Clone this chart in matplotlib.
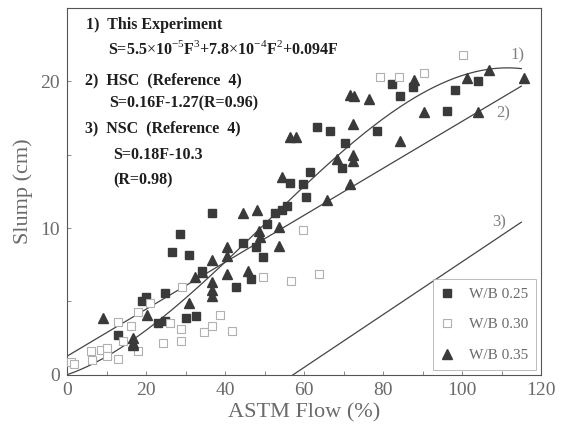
import numpy as np
import matplotlib
matplotlib.use("Agg")
import matplotlib.pyplot as plt
from matplotlib.ticker import MultipleLocator

# W/B 0.25 (filled squares)
flow_025 = [12.9, 19.0, 20.0, 24.9, 23.0, 24.9, 26.7, 28.7, 30.8, 36.7, 34.2, 30.0,
            32.7, 42.7, 46.6, 44.6, 47.9, 49.6, 50.7, 52.6, 54.5, 55.8, 56.5, 59.8,
            60.6, 61.5, 63.4, 66.6, 69.5, 70.4, 78.4, 82.2, 84.3, 87.5, 96.2, 98.2, 104.1]
slump_025 = [2.7, 5.0, 5.3, 5.6, 3.5, 3.7, 8.4, 9.6, 8.2, 11.0, 7.1, 3.9,
             4.0, 6.0, 6.5, 9.0, 8.7, 8.0, 10.3, 11.0, 11.2, 11.5, 13.1, 13.0,
             12.1, 13.8, 16.9, 16.6, 14.1, 15.8, 16.6, 19.8, 19.0, 19.6, 18.0, 19.4, 20.0]

# W/B 0.30 (open squares)
flow_030 = [1.0, 1.8, 6.1, 6.3, 8.6, 10.2, 10.0, 13.0, 13.0, 14.3, 16.2, 18.0, 18.0,
            20.9, 24.4, 26.0, 28.9, 28.9, 29.2, 34.7, 36.7, 38.8, 41.8, 49.5, 56.6,
            59.8, 63.8, 79.3, 84.1, 90.4, 100.2]
slump_030 = [0.9, 0.75, 1.6, 1.0, 1.7, 1.8, 1.3, 1.1, 3.6, 2.3, 3.3, 1.6, 4.3,
             4.9, 2.15, 3.5, 3.1, 2.3, 6.0, 2.9, 3.3, 4.1, 3.0, 6.7, 6.4,
             9.9, 6.9, 20.3, 20.3, 20.6, 21.8]

# W/B 0.35 (triangles)
flow_035 = [9.0, 16.8, 16.8, 16.8, 20.2, 30.8, 32.5, 34.2, 36.7, 36.7, 36.7, 36.7,
            40.5, 40.5, 40.5, 44.6, 45.8, 48.1, 48.5, 48.8, 53.6, 53.6, 54.5, 56.5,
            58.0, 65.7, 68.4, 71.7, 72.6, 71.7, 72.5, 72.5, 72.5, 76.5, 84.4, 87.9,
            90.3, 101.3, 104.1, 106.9, 115.8]
slump_035 = [3.9, 2.5, 2.0, 2.2, 4.1, 4.9, 6.7, 7.0, 7.8, 6.3, 5.8, 5.4,
             8.7, 8.1, 6.9, 11.0, 7.1, 11.2, 9.8, 9.4, 10.1, 8.8, 13.5, 16.2,
             16.2, 11.9, 14.7, 19.1, 19.0, 13.0, 17.1, 15.0, 14.6, 18.8, 15.9, 20.1,
             17.9, 20.2, 17.9, 20.8, 20.2]

# curve 1) this experiment
curve1_flow = [0, 10, 20, 30, 40, 50, 60, 70, 80, 90, 100, 107, 115]
curve1_slump = [0, 1.25, 3.04, 5.23, 7.68, 10.26, 12.84, 15.28, 17.44, 19.2, 20.4, 20.85, 20.85]
# line 2) HSC
curve2_flow = [0, 115]
curve2_slump = [1.27, 19.67]
# line 3) NSC
curve3_flow = [57.2, 115]
curve3_slump = [0, 10.4]

serif = "Liberation Serif"
gray_txt = "#6a6a6a"
dark = "#3a3a3a"

plt.rcParams["mathtext.fontset"] = "custom"
plt.rcParams["mathtext.rm"] = serif
plt.rcParams["mathtext.bf"] = serif + ":bold"

fig = plt.figure(figsize=(5.63, 4.41), dpi=100)
ax = fig.add_axes([0.119, 0.150, 0.842, 0.832])

# smooth curve 1 through the read points
xs = np.linspace(0, 115, 200)
coef = np.polyfit(curve1_flow, curve1_slump, 3)
ax.plot(xs, np.polyval(coef, xs), color="#444444", lw=0.9, zorder=2)
ax.plot(curve2_flow, curve2_slump, color="#444444", lw=0.9, zorder=2)
ax.plot(curve3_flow, curve3_slump, color="#444444", lw=0.9, zorder=2)

ax.plot(flow_025, slump_025, "s", ms=5.5, color=dark, mec=dark, ls="none",
        label="W/B 0.25", zorder=3)
ax.plot(flow_030, slump_030, "s", ms=5.5, mfc="white", mec="#b0b0b0", mew=0.8,
        ls="none", label="W/B 0.30", zorder=3)
ax.plot(flow_035, slump_035, "^", ms=6.8, color=dark, mec=dark, ls="none",
        label="W/B 0.35", zorder=3)

ax.set_xlim(0, 120)
ax.set_ylim(0, 25)
ax.xaxis.set_major_locator(MultipleLocator(20))
ax.xaxis.set_minor_locator(MultipleLocator(10))
ax.yaxis.set_major_locator(MultipleLocator(10))
ax.yaxis.set_minor_locator(MultipleLocator(5))
ax.tick_params(which="both", direction="in", length=3, width=0.6, color="#777777",
               labelcolor=gray_txt, labelsize=14, pad=5)
for lab in ax.get_xticklabels() + ax.get_yticklabels():
    lab.set_fontfamily(serif)
for sp in ax.spines.values():
    sp.set_color("#555555")
    sp.set_linewidth(0.8)

ax.set_xlabel("ASTM Flow (%)", fontfamily=serif, fontsize=16, color=gray_txt, labelpad=3)
ax.set_ylabel("Slump (cm)", fontfamily=serif, fontsize=16, color=gray_txt, labelpad=5)

# equation block
lines = [
    (86, 25, "1)  This Experiment"),
    (108, 49, r"S=5.5$\times$10$^{-5}$F$^{3}$+7.8$\times$10$^{-4}$F$^{2}$+0.094F"),
    (85, 80, "2)  HSC  (Reference  4)"),
    (109, 103, "S=0.16F-1.27(R=0.96)"),
    (85, 128, "3)  NSC  (Reference  4)"),
    (113, 155, "S=0.18F-10.3"),
    (113, 180, "(R=0.98)"),
]
for px, py, s in lines:
    fig.text(px / 563, 1 - py / 441, s, fontfamily=serif, fontweight="bold",
             fontsize=11.5, color="#1e1e1e", va="center", ha="left")

# curve labels
for fx, sy, s in [(114, 21.8, "1)"), (110.3, 17.8, "2)"), (109.4, 10.4, "3)")]:
    ax.text(fx, sy, s, fontfamily=serif, fontsize=12, color="#808080",
            ha="center", va="center")

leg = ax.legend(loc="lower right", prop={"family": serif, "size": 11},
                labelcolor=gray_txt, fancybox=False, edgecolor="#aaaaaa",
                borderpad=0.55, labelspacing=1.1, handlelength=0.8,
                handletextpad=1.0, borderaxespad=0.3)
leg.get_frame().set_linewidth(0.7)

fig.savefig("out.png", dpi=100)
